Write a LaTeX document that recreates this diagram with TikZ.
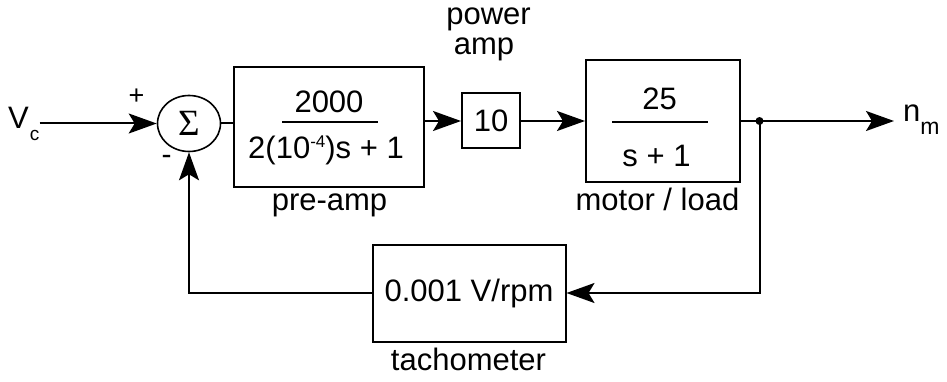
\documentclass[tikz,border=0pt]{standalone}
\usepackage{fontspec}
\setmainfont{Liberation Sans}
\newfontfamily\sigmafont{Liberation Serif}
\usepackage{tikz}
\usetikzlibrary{arrows.meta,calc,positioning,shapes.geometric}

\begin{document}
\begin{tikzpicture}[x=1pt,y=-1pt,font=\fontsize{31}{34}\selectfont,
        blk/.style={draw,line width=2pt,inner sep=0pt},
        wire/.style={line width=2pt},
        sig/.style={line width=2pt,-{Stealth[length=28pt,width=20pt,inset=6pt]}},
        lbl/.style={anchor=base,inner sep=0pt}]
        \useasboundingbox (0,0) rectangle (947,382);
        \node[anchor=base west,inner sep=0pt] (vc) at (8,129) {V\hspace{1pt}\raisebox{-12pt}{\fontsize{19}{19}\selectfont c}};
        \node[draw,ellipse,line width=1.6pt,minimum width=63pt,minimum height=56pt,inner sep=0pt,font=\sigmafont\fontsize{37}{37}\selectfont] (sum) at (189,123.5) {Σ};
        \node[font=\fontsize{27}{27}\selectfont,inner sep=0pt] (plus) at (136.5,96.5) {+};
        \node[font=\fontsize{30}{30}\selectfont,inner sep=0pt] (minus) at (166.5,160) {-};
        \node[blk,minimum width=190pt,minimum height=120pt] (pre) at (329,127) {};
        \node[lbl] (prenum) at (329,113) {2000};
        \node[lbl] (preden) at (326,159) {2(10\raisebox{11pt}{\fontsize{17}{17}\selectfont -4})s + 1};
        \draw[wire] (282,122) -- (378,122);
        \node[lbl] (prename) at (329.5,210) {pre-amp};
        \node[blk,minimum width=58pt,minimum height=55pt] (amp) at (491,121) {10};
        \node[lbl] (pwrname) at (488.5,25) {power};
        \node[lbl] (ampname) at (484,55) {amp};
        \node[blk,minimum width=154pt,minimum height=122pt] (motor) at (663,121) {};
        \node[lbl] (motnum) at (659.5,110) {25};
        \node[lbl] (motden) at (656.5,167) {s + 1};
        \draw[wire] (612,122) -- (708,122);
        \node[lbl] (motname) at (657.5,211) {motor / load};
        \node[blk,minimum width=193pt,minimum height=97pt] (tach) at (469,293) {0.001 V/rpm};
        \node[lbl] (tachname) at (468.5,370) {tachometer};
        \node[anchor=base west,inner sep=0pt] (nm) at (903,122) {n\raisebox{-13pt}{\fontsize{23}{23}\selectfont m}};
        \coordinate (jn) at (759.5,121);
        \draw[sig] (vc.east |- sum.west) -- (sum.west);
        \draw[wire] (sum.east) -- (sum.east -| pre.west);
        \draw[sig] (pre.east |- amp.west) -- (amp.west);
        \draw[sig] (amp.east) -- (amp.east -| motor.west);
        \draw[wire] (motor.east) -- (jn);
        \draw[sig,shorten >=9pt] (jn) -- (jn -| nm.west);
        \fill (jn) circle (4pt);
        \draw[sig] (jn) |- (tach.east);
        \draw[sig] (tach.west) -| (sum.south);
        \end{tikzpicture}
\end{document}
